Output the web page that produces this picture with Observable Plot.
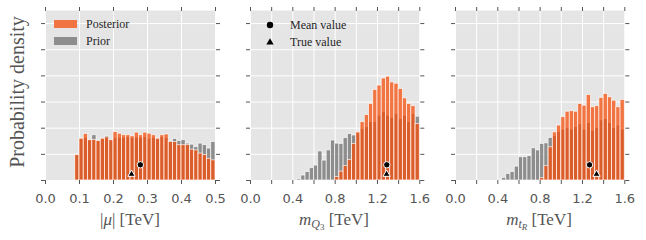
<!DOCTYPE html>
<html>
<head>
<meta charset="utf-8">
<script src="https://cdn.jsdelivr.net/npm/d3@7"></script>
<script src="https://cdn.jsdelivr.net/npm/@observablehq/plot@0.6"></script>
<style>
  html, body { margin: 0; padding: 0; background: #fff; }
  #wrap { position: relative; width: 646px; height: 240px; overflow: hidden; }
  .panel { position: absolute; top: 0; }
  #overlay { position: absolute; left: 0; top: 0; pointer-events: none; }
</style>
</head>
<body>
<div id="wrap"></div>
<script>
// ---------- data ----------
// |mu| panel : histogram, 0.0125 TeV bins starting at 0.0875
const MU_START = 0.0875, MU_WIDTH = 0.0125;
const muPosterior = [0.97,1.60,1.78,1.54,1.55,1.51,1.60,1.65,1.54,1.85,1.79,1.73,1.73,1.69,1.83,1.73,1.83,1.79,1.73,1.60,1.73,1.76,1.47,1.47,1.35,1.35,1.35,1.18,1.15,1.03,0.97,0.83,0.77];
const muPrior     = [0.97,1.58,1.62,1.54,1.73,1.51,1.58,1.69,1.54,1.62,1.64,1.62,1.66,1.62,1.64,1.62,1.66,1.60,1.62,1.58,1.66,1.62,1.51,1.59,1.51,1.54,1.41,1.37,1.28,1.41,1.35,1.22,1.47];

// m_Q3 panel : 0.04 TeV bins
const MASS_WIDTH = 0.04;
const mq3PriorStart = 0.44, mq3PostStart = 0.80;
const mq3Prior     = [0.05,0.19,0.32,0.47,0.57,1.11,0.76,1.15,1.53,1.41,1.40,1.62,1.78,1.72,1.80,1.97,2.04,2.23,2.23,2.48,2.63,2.48,2.39,2.54,2.35,2.48,2.23,2.54,2.44];
const mq3Posterior = [0.13,0.34,0.55,0.79,1.40,1.84,2.23,2.50,2.93,3.46,3.63,3.90,3.97,3.75,3.70,3.50,3.14,2.93,2.84,2.16];

// m_tR panel
const mtrPriorStart = 0.40, mtrPostStart = 0.80;
const mtrPrior     = [0.03,0.10,0.25,0.32,0.53,0.89,0.89,0.93,1.23,1.15,1.40,1.42,1.63,1.70,1.85,1.95,2.00,1.95,2.05,2.15,1.95,2.20,1.90,2.00,2.30,2.35,2.20,2.00,2.10,1.95];
const mtrPosterior = [0.09,0.55,1.27,1.84,2.10,2.42,2.63,2.65,2.63,2.93,2.86,3.27,2.80,2.84,3.16,3.31,3.18,3.05,2.80,3.08];

// markers (TeV)
const meanValues = [0.279, 1.288, 1.267];
const trueValues = [0.253, 1.286, 1.333];

// ticks
const muTicks = [0, 0.1, 0.2, 0.3, 0.4, 0.5];
const muTickLabels = ["0.0", "0.1", "0.2", "0.3", "0.4", "0.5"];
const massTicks = [0, 0.2, 0.4, 0.6, 0.8, 1.0, 1.2, 1.4, 1.6];
const massTickLabels = ["0.0", "", "0.4", "", "0.8", "", "1.2", "", "1.6"];
const yTicks = [0, 1, 2, 3, 4, 5, 6];

// ---------- drawing ----------
const BG = "#E5E5E5";
const POST_FILL = "#F44F0C", POST_OPACITY = 0.75;
const PRIOR_FILL = "#6f6f6f", PRIOR_OPACITY = 0.75;
const MEAN_Y = 0.6, TRUE_Y = 0.24;

function rows(start, w, vals) {
  return vals.map((v, i) => ({x1: start + i * w, x2: start + (i + 1) * w, v}));
}

function panel({left, width, marginLeft, marginRight, domain, ticks, labels, prior, post, mean, truth}) {
  const fmt = d => labels[ticks.findIndex(t => Math.abs(t - d) < 1e-9)] ?? "";
  const svg = Plot.plot({
    width, height: 240,
    marginLeft, marginRight, marginTop: 10, marginBottom: 60,
    x: {domain},
    y: {domain: [0, 6.5]},
    style: {background: "transparent", overflow: "visible", color: "#555", fontFamily: "DejaVu Sans"},
    marks: [
      Plot.frame({fill: BG, stroke: null}),
      Plot.gridX(ticks, {stroke: "white", strokeOpacity: 1, strokeWidth: 1}),
      Plot.gridY(yTicks, {stroke: "white", strokeOpacity: 1, strokeWidth: 1}),
      Plot.rectY(prior, {x1: "x1", x2: "x2", y: "v", fill: PRIOR_FILL, fillOpacity: PRIOR_OPACITY, stroke: "white", strokeWidth: 0.8, strokeOpacity: 0.8}),
      Plot.rectY(post, {x1: "x1", x2: "x2", y: "v", fill: POST_FILL, fillOpacity: POST_OPACITY, stroke: "white", strokeWidth: 0.8, strokeOpacity: 0.8}),
      Plot.dot([mean], {x: d => d, y: () => MEAN_Y, r: 3.2, fill: "black", stroke: "white", strokeWidth: 1}),
      Plot.dot([truth], {x: d => d, y: () => TRUE_Y, symbol: "triangle", r: 2.7, fill: "black", stroke: "white", strokeWidth: 1}),
      Plot.axisX({anchor: "bottom", ticks, tickFormat: fmt, tickSize: 4, tickPadding: 9, fontSize: 13, label: null}),
      Plot.axisX({anchor: "top", ticks, tickFormat: () => "", tickSize: 4, label: null}),
      Plot.axisY({anchor: "left", ticks: yTicks, tickFormat: () => "", tickSize: 4, label: null}),
      Plot.axisY({anchor: "right", ticks: yTicks, tickFormat: () => "", tickSize: 4, label: null})
    ]
  });
  svg.classList.add("panel");
  svg.style.left = left + "px";
  return svg;
}

const wrap = document.getElementById("wrap");
wrap.appendChild(panel({
  left: 0, width: 230, marginLeft: 45, marginRight: 15, domain: [0, 0.5],
  ticks: muTicks, labels: muTickLabels,
  prior: rows(MU_START, MU_WIDTH, muPrior), post: rows(MU_START, MU_WIDTH, muPosterior),
  mean: meanValues[0], truth: trueValues[0]
}));
wrap.appendChild(panel({
  left: 230, width: 205, marginLeft: 20, marginRight: 15.7, domain: [0, 1.6],
  ticks: massTicks, labels: massTickLabels,
  prior: rows(mq3PriorStart, MASS_WIDTH, mq3Prior), post: rows(mq3PostStart, MASS_WIDTH, mq3Posterior),
  mean: meanValues[1], truth: trueValues[1]
}));
wrap.appendChild(panel({
  left: 435, width: 205, marginLeft: 20, marginRight: 15.7, domain: [0, 1.6],
  ticks: massTicks, labels: massTickLabels,
  prior: rows(mtrPriorStart, MASS_WIDTH, mtrPrior), post: rows(mtrPostStart, MASS_WIDTH, mtrPosterior),
  mean: meanValues[2], truth: trueValues[2]
}));

// ---------- labels & legends overlay ----------
const ov = d3.select(wrap).append("svg").attr("id", "overlay").attr("width", 646).attr("height", 240);
const SERIF = "'Liberation Serif', 'DejaVu Serif', serif";

// y label
ov.append("text")
  .attr("transform", "translate(24,92) rotate(-90)")
  .attr("text-anchor", "middle")
  .attr("font-family", SERIF).attr("font-size", 20).attr("fill", "#555")
  .text("Probability density");

// x labels
const xl1 = ov.append("text").attr("x", 130).attr("y", 225).attr("text-anchor", "middle")
  .attr("font-family", SERIF).attr("font-size", 17).attr("fill", "#555");
xl1.append("tspan").text("|");
xl1.append("tspan").attr("font-style", "italic").text("μ");
xl1.append("tspan").text("| [TeV]");

function massLabel(x, sub, subsub) {
  const t = ov.append("text").attr("x", x).attr("y", 225).attr("text-anchor", "middle")
    .attr("font-family", SERIF).attr("font-size", 17).attr("fill", "#555");
  t.append("tspan").attr("font-style", "italic").text("m");
  t.append("tspan").attr("font-style", "italic").attr("font-size", 12).attr("dy", 3).text(sub);
  t.append("tspan").attr("font-size", 9).attr("dy", 2).text(subsub.text).attr("font-style", subsub.italic ? "italic" : "normal");
  t.append("tspan").attr("dy", -5).text(" [TeV]");
}
massLabel(334, "Q", {text: "3", italic: false});
massLabel(539, "t", {text: "R", italic: true});

// legend: posterior / prior
const LEG_TEXT = "#262626";
ov.append("rect").attr("x", 54).attr("y", 20).attr("width", 23).attr("height", 8)
  .attr("fill", BG);
ov.append("rect").attr("x", 54).attr("y", 20).attr("width", 23).attr("height", 8)
  .attr("fill", POST_FILL).attr("fill-opacity", POST_OPACITY);
ov.append("rect").attr("x", 54).attr("y", 37).attr("width", 23).attr("height", 8)
  .attr("fill", PRIOR_FILL).attr("fill-opacity", PRIOR_OPACITY);
ov.append("text").attr("x", 86).attr("y", 28).attr("font-family", SERIF).attr("font-size", 12)
  .attr("fill", LEG_TEXT).text("Posterior");
ov.append("text").attr("x", 86).attr("y", 45).attr("font-family", SERIF).attr("font-size", 12)
  .attr("fill", LEG_TEXT).text("Prior");

// legend: mean / true
ov.append("circle").attr("cx", 270).attr("cy", 25).attr("r", 3.2).attr("fill", "black");
ov.append("path").attr("d", d3.symbol(d3.symbolTriangle, Math.PI * 2.7 * 2.7)()).attr("transform", "translate(270,42.5)").attr("fill", "black");
ov.append("text").attr("x", 290).attr("y", 29).attr("font-family", SERIF).attr("font-size", 12)
  .attr("fill", LEG_TEXT).text("Mean value");
ov.append("text").attr("x", 290).attr("y", 46).attr("font-family", SERIF).attr("font-size", 12)
  .attr("fill", LEG_TEXT).text("True value");
</script>
</body>
</html>
